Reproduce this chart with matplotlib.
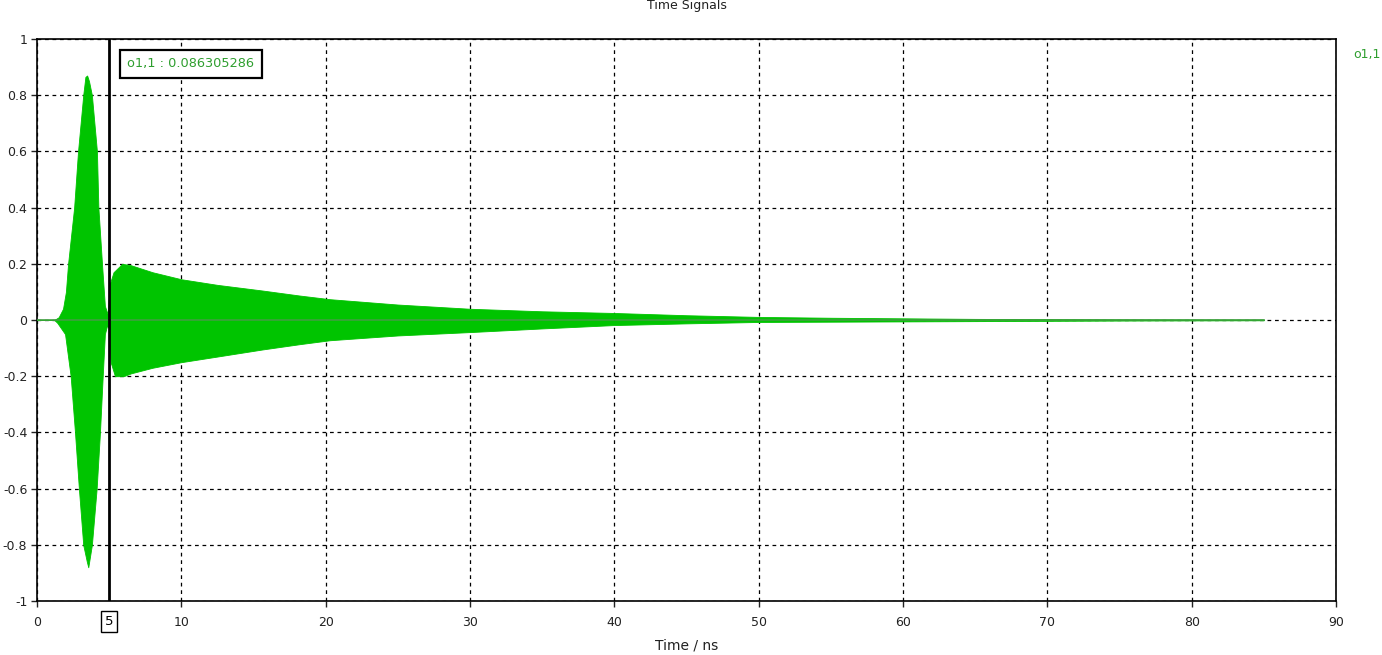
import matplotlib
matplotlib.use('Agg')
import matplotlib.pyplot as plt


# envelope of the o1,1 time signal (ns, amplitude)
# upper side
t_upper = [0, 1.2, 1.5, 1.8, 2.0, 2.15, 2.57, 2.84, 3.2, 3.35, 3.47, 3.6, 3.8,
           4.15, 4.25, 4.5, 4.7, 4.9, 5.05, 5.3, 5.9, 6.5, 8, 10, 12.5, 15.6,
           18.2, 20.3, 25, 30, 35, 40, 45, 50, 55, 60, 65, 70, 75, 80, 85]
env_upper = [0, 0.0, 0.01, 0.04, 0.1, 0.2, 0.4, 0.6, 0.8, 0.865, 0.87, 0.85, 0.8,
             0.6, 0.4, 0.2, 0.05, 0.02, 0.13, 0.17, 0.2, 0.195, 0.17, 0.145, 0.125, 0.105,
             0.087, 0.074, 0.055, 0.04, 0.031, 0.025, 0.017, 0.011, 0.008, 0.006, 0.004,
             0.003, 0.002, 0.0015, 0.001]
# lower side
t_lower = [0, 1.2, 1.4, 1.94, 2.33, 2.63, 2.9, 3.2, 3.45, 3.55, 3.8, 4.13, 4.36,
           4.55, 4.7, 4.85, 5.0, 5.1, 5.4, 6.0, 6.5, 8, 10, 12.5, 15.6,
           18.2, 20.3, 25, 30, 35, 40, 45, 50, 55, 60, 65, 70, 75, 80, 85]
env_lower = [0, 0.0, -0.01, -0.05, -0.2, -0.4, -0.6, -0.8, -0.86, -0.88, -0.8, -0.6, -0.4,
             -0.2, -0.05, -0.02, -0.03, -0.15, -0.2, -0.2, -0.19, -0.17, -0.15, -0.13, -0.105,
             -0.086, -0.072, -0.055, -0.043, -0.03, -0.018, -0.012, -0.007, -0.006, -0.005,
             -0.004, -0.003, -0.002, -0.0015, -0.001]

x_ticks = [0, 10, 20, 30, 40, 50, 60, 70, 80, 90]
y_ticks = [-1, -0.8, -0.6, -0.4, -0.2, 0, 0.2, 0.4, 0.6, 0.8, 1]
y_labels = ['-1', '-0.8', '-0.6', '-0.4', '-0.2', '0', '0.2', '0.4', '0.6', '0.8', '1']

marker_x = 5
marker_text = 'o1,1 : 0.086305286'

green = '#00c400'
plt.rcParams['font.family'] = ['Tahoma', 'DejaVu Sans']

fig = plt.figure(figsize=(13.82, 6.55), dpi=100)
ax = fig.add_axes([0.0268, 0.0824, 0.9399, 0.8581])

# dense oscillation shows up as a solid band between the envelopes
ax.fill_between(t_upper, 0, env_upper, color=green, linewidth=0.6, edgecolor=green, zorder=3)
ax.fill_between(t_lower, env_lower, 0, color=green, linewidth=0.6, edgecolor=green, zorder=3)
ax.plot([t_upper[0], t_upper[-1]], [0, 0], color='#3f9f3f', linewidth=1.2, zorder=3)

ax.set_xlim(0, 90)
ax.set_ylim(-1, 1)
ax.set_xticks(x_ticks)
ax.set_yticks(y_ticks)
ax.set_yticklabels(y_labels)
ax.tick_params(direction='out', length=4, width=1, labelsize=9, colors='#222222')
ax.tick_params(axis='x', pad=7)
ax.tick_params(axis='y', pad=3)
ax.grid(True, color='black', linestyle=(0, (3, 3)), linewidth=0.9, zorder=1)
for s in ax.spines.values():
  s.set_linewidth(1.2)

# marker line and its boxed axis label
ax.axvline(marker_x, color='black', linewidth=2, zorder=5)
ax.annotate('5', xy=(marker_x, -1.0), xytext=(0, -14.5), textcoords='offset points',
            ha='center', va='center', fontsize=9.5, color='black', zorder=6,
            bbox=dict(boxstyle='square,pad=0.3', facecolor='white', edgecolor='black', linewidth=1))

ax.text(0.0695, 0.9555, marker_text, transform=ax.transAxes, ha='left', va='center',
        fontsize=9.3, color='#2e9e2e', zorder=6,
        bbox=dict(boxstyle='square,pad=0.6', facecolor='white', edgecolor='black', linewidth=1.6))

fig.text(0.989, 0.917, 'o1,1', ha='center', va='center', fontsize=9, color='#2e9e2e')
fig.text(0.497, 0.992, 'Time Signals', ha='center', va='center', fontsize=9, color='#222222')
fig.text(0.497, 0.015, 'Time / ns', ha='center', va='center', fontsize=10, color='#222222')

fig.savefig('out.png', dpi=100)
